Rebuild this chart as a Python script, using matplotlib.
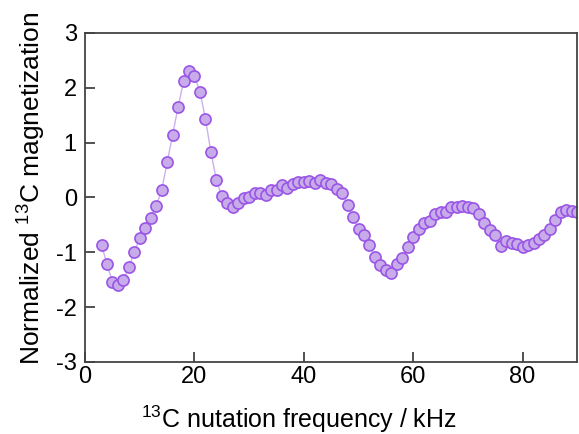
import matplotlib
matplotlib.use("Agg")
import matplotlib.pyplot as plt

plt.rcParams['font.family'] = ['Liberation Sans', 'DejaVu Sans']
plt.rcParams['mathtext.fontset'] = 'custom'
plt.rcParams['mathtext.rm'] = 'Liberation Sans'
plt.rcParams['mathtext.it'] = 'Liberation Sans:italic'
plt.rcParams['axes.unicode_minus'] = False

freq_khz = list(range(3, 91))
magnetization = [
    -0.87, -1.21, -1.55, -1.59, -1.51, -1.27, -1.00, -0.74, -0.55, -0.38,
    -0.15, 0.13, 0.64, 1.14, 1.65, 2.12, 2.30, 2.21, 1.93, 1.44,
    0.83, 0.32, 0.02, -0.10, -0.18, -0.10, -0.01, 0.01, 0.08, 0.08,
    0.05, 0.14, 0.14, 0.22, 0.18, 0.25, 0.28, 0.28, 0.30, 0.26,
    0.31, 0.27, 0.25, 0.16, 0.09, -0.13, -0.36, -0.58, -0.69, -0.86,
    -1.09, -1.24, -1.33, -1.37, -1.22, -1.10, -0.91, -0.73, -0.58, -0.46,
    -0.43, -0.31, -0.26, -0.27, -0.18, -0.18, -0.15, -0.18, -0.20, -0.31,
    -0.47, -0.60, -0.69, -0.88, -0.80, -0.83, -0.84, -0.91, -0.86, -0.83,
    -0.75, -0.69, -0.58, -0.42, -0.27, -0.22, -0.24, -0.27,
]

x_ticks = [0, 20, 40, 60, 80]
y_ticks = [-3, -2, -1, 0, 1, 2, 3]

fig = plt.figure(figsize=(5.79, 4.34), dpi=100)
ax = fig.add_axes([0.147, 0.166, 0.850, 0.758])

ax.plot(freq_khz, magnetization, '-', color='#cdb0f0', lw=1.0, zorder=1)
ax.plot(freq_khz, magnetization, 'o', ms=8, mfc='#c8acea', mec='#9a55e6',
        mew=1.2, zorder=2)

ax.set_xlim(0, 90)
ax.set_ylim(-3, 3)
ax.set_xticks(x_ticks)
ax.set_yticks(y_ticks)
ax.tick_params(direction='in', length=7, width=1.2, labelsize=17,
               color='#333333')
ax.tick_params(axis='x', pad=3)
ax.tick_params(axis='y', pad=6)
for s in ax.spines.values():
    s.set_linewidth(1.3)
    s.set_color('#444444')

ax.set_xlabel('$^{13}$C nutation frequency / kHz', fontsize=18, labelpad=11.5)
ax.set_ylabel('Normalized $^{13}$C magnetization', fontsize=19, labelpad=6)
ax.xaxis.label.set_x(0.435)
ax.yaxis.label.set_y(0.526)

fig.savefig('out.png', dpi=100)
